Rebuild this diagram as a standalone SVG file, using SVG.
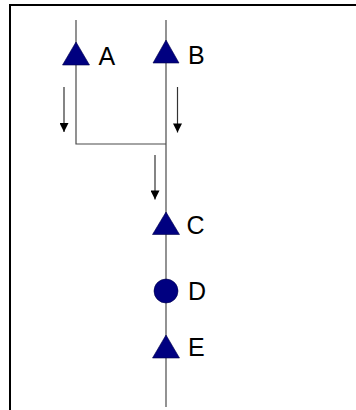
<svg xmlns="http://www.w3.org/2000/svg" width="356" height="410" viewBox="0 0 356 410">
<style>
.wire{stroke:#4a4a4a;stroke-width:1.2;fill:none}
.flow{stroke:#333;stroke-width:1.2;fill:none}
.sym{fill:#000080;stroke:#00004a;stroke-width:0.6}
.lbl{font-family:"Liberation Sans",Arial,sans-serif;font-size:25px;fill:#000}
</style>
<defs>
<marker id="ah" viewBox="0 0 10 10" refX="10" refY="5" markerWidth="11" markerHeight="9" markerUnits="userSpaceOnUse" orient="auto">
<path d="M0,0 L10,5 L0,10 Z" fill="#000"/>
</marker>
</defs>
<rect x="0" y="0" width="356" height="410" fill="#fff"/>
<g id="frame">
<path d="M10,410 V5 H356" fill="none" stroke="#000" stroke-width="2"/>
</g>
<g id="connectors">
<path class="wire" d="M76,20 V144 H166"/>
<path class="wire" d="M166,20 V407"/>
<path class="flow" d="M64,87 V132" marker-end="url(#ah)"/>
<path class="flow" d="M177.5,87 V132.5" marker-end="url(#ah)"/>
<path class="flow" d="M155,155 V199.5" marker-end="url(#ah)"/>
</g>
<g id="A">
<polygon class="sym" points="76,42 89.5,65 62.5,65"/>
<text class="lbl" x="98.5" y="64.5">A</text>
</g>
<g id="B">
<polygon class="sym" points="166,40 179,63 153,63"/>
<text class="lbl" x="188" y="63.5">B</text>
</g>
<g id="C">
<polygon class="sym" points="166,212 179.5,234.5 152.5,234.5"/>
<text class="lbl" x="186.5" y="234">C</text>
</g>
<g id="D">
<circle class="sym" cx="166" cy="291" r="12"/>
<text class="lbl" x="188" y="300">D</text>
</g>
<g id="E">
<polygon class="sym" points="166,335 179.5,358 152.5,358"/>
<text class="lbl" x="188" y="356">E</text>
</g>
</svg>
